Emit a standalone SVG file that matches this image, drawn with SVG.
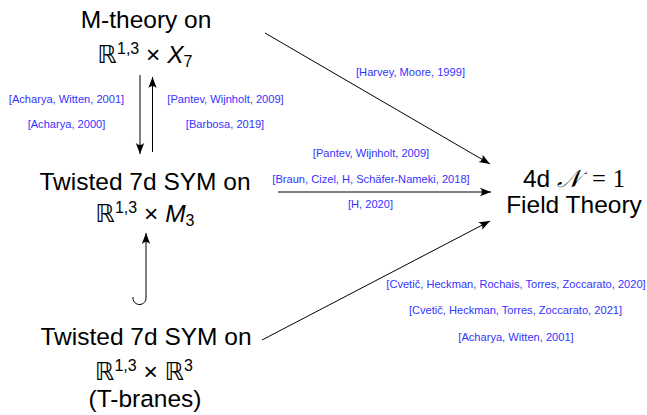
<svg xmlns="http://www.w3.org/2000/svg" width="647" height="415" viewBox="0 0 647 415">
<style>
.node{font-family:"Liberation Sans","DejaVu Sans",sans-serif;font-size:24.5px;fill:#000;text-anchor:middle}
.bb{font-family:"DejaVu Sans",sans-serif}
.sup{font-size:16px}
.it{font-style:italic}
.ref{font-family:"Liberation Sans","DejaVu Sans",sans-serif;font-size:11.1px;fill:#3333ff;text-anchor:middle}
.edge{stroke:#000;stroke-width:1;fill:none}
</style>
<defs>
<marker id="ah" markerUnits="userSpaceOnUse" markerWidth="12" markerHeight="10" refX="11" refY="5" orient="auto">
<path d="M11,5 L0,0.8 Q3.8,5 0,9.2 Z" fill="#000"/>
</marker>
</defs>
<rect width="647" height="415" fill="#fff"/>
<g id="connectors">
<line class="edge" x1="140" y1="75" x2="140" y2="154" marker-end="url(#ah)"/>
<line class="edge" x1="152.5" y1="152" x2="152.5" y2="77" marker-end="url(#ah)"/>
<path class="edge" d="M133,297 A6.5,6.5 0 0 0 146,299 L146,233" marker-end="url(#ah)"/>
<line class="edge" x1="265" y1="33" x2="490" y2="164" marker-end="url(#ah)"/>
<line class="edge" x1="278" y1="192" x2="491" y2="192" marker-end="url(#ah)"/>
<line class="edge" x1="262" y1="340" x2="490" y2="221" marker-end="url(#ah)"/>
</g>
<g id="labels">
<text class="ref" x="66.5" y="103">[Acharya, Witten, 2001]</text>
<text class="ref" x="66.5" y="128">[Acharya, 2000]</text>
<text class="ref" x="225.5" y="103">[Pantev, Wijnholt, 2009]</text>
<text class="ref" x="225" y="128">[Barbosa, 2019]</text>
<text class="ref" x="410.5" y="76">[Harvey, Moore, 1999]</text>
<text class="ref" x="371" y="157">[Pantev, Wijnholt, 2009]</text>
<text class="ref" x="371" y="183">[Braun, Cizel, H, Schäfer-Nameki, 2018]</text>
<text class="ref" x="370.5" y="208">[H, 2020]</text>
<text class="ref" x="516" y="288">[Cvetič, Heckman, Rochais, Torres, Zoccarato, 2020]</text>
<text class="ref" x="515.5" y="314">[Cvetič, Heckman, Torres, Zoccarato, 2021]</text>
<text class="ref" x="516" y="341">[Acharya, Witten, 2001]</text>
</g>
<g id="m-theory">
<text class="node" x="146" y="28">M-theory on</text>
<text class="node" x="145" y="63"><tspan class="bb">ℝ</tspan><tspan class="sup" dy="-9">1,3</tspan><tspan dy="9"> × </tspan><tspan class="it">X</tspan><tspan class="sup" dy="4">7</tspan></text>
</g>
<g id="twisted-m3">
<text class="node" x="145" y="190">Twisted 7d SYM on</text>
<text class="node" x="145" y="222"><tspan class="bb">ℝ</tspan><tspan class="sup" dy="-9">1,3</tspan><tspan dy="9"> × </tspan><tspan class="it">M</tspan><tspan class="sup" dy="4">3</tspan></text>
</g>
<g id="twisted-r3">
<text class="node" x="146" y="345">Twisted 7d SYM on</text>
<text class="node" x="144" y="380"><tspan class="bb">ℝ</tspan><tspan class="sup" dy="-9">1,3</tspan><tspan dy="9"> × </tspan><tspan class="bb">ℝ</tspan><tspan class="sup" dy="-9">3</tspan></text>
<text class="node" x="145" y="407">(T-branes)</text>
</g>
<g id="field-theory">
<text class="node" x="574" y="187">4d <tspan font-family="'DejaVu Serif','Noto Sans',serif" font-style="italic">𝒩</tspan><tspan font-family="'Liberation Serif',serif" dx="12">=</tspan><tspan font-family="'Liberation Serif',serif" dx="7">1</tspan></text>
<text class="node" x="574" y="213">Field Theory</text>
</g>
</svg>
